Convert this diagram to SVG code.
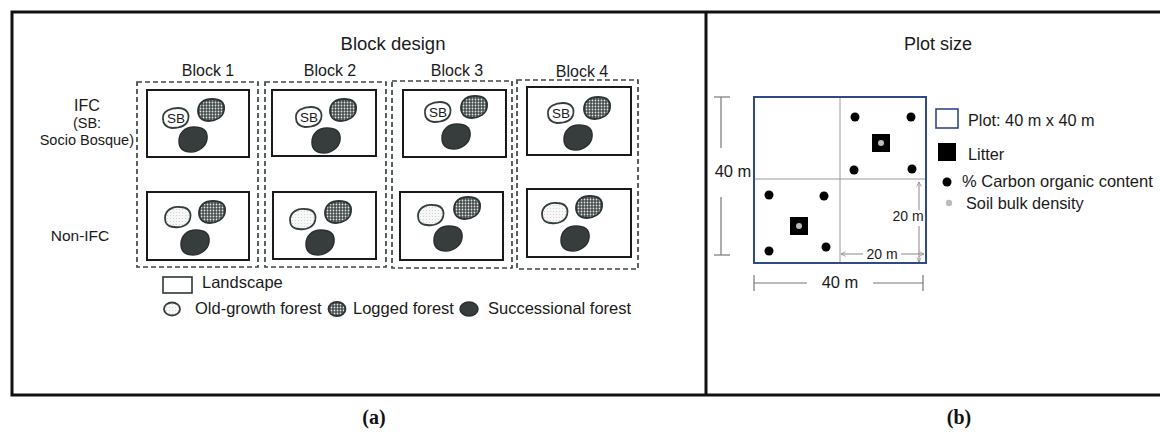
<svg xmlns="http://www.w3.org/2000/svg" width="1160" height="432" viewBox="0 0 1160 432">
<style>
text{font-family:"Liberation Sans",Arial,sans-serif;fill:#1a1a1a}
.frame{fill:none;stroke:#111;stroke-width:3}
.dash{fill:none;stroke:#3d4545;stroke-width:1.7;stroke-dasharray:5 3}
.land{fill:#fff;stroke:#1a1a1a;stroke-width:2}
.old{fill:url(#dots);stroke:#333d3d;stroke-width:1.8}
.sb{fill:#fff;stroke:#333d3d;stroke-width:1.8}
.log{fill:url(#check);stroke:#2c3535;stroke-width:1.8}
.suc{fill:#373d3d;stroke:#2a3030;stroke-width:1.5}
.grid{stroke:#9a9a9a;stroke-width:1;fill:none}
.dim{stroke:#777;stroke-width:1.2;fill:none}
.arr{stroke:#888;stroke-width:1;fill:none}
.plot{fill:none;stroke:#2f4a88;stroke-width:2}
.t16{font-size:16px}
.t14{font-size:14.5px}
.lab{font-family:"Liberation Serif","Times New Roman",serif;font-weight:bold;font-size:20px;fill:#111}
</style>
<defs>
<pattern id="dots" width="3" height="3" patternUnits="userSpaceOnUse">
<rect width="3" height="3" fill="#f7f7f7"/><circle cx="1.5" cy="1.5" r="0.6" fill="#cfcfcf"/>
</pattern>
<pattern id="check" width="3" height="3" patternUnits="userSpaceOnUse">
<rect width="3" height="3" fill="#454d4d"/><circle cx="1.5" cy="1.5" r="0.9" fill="#e4e4e4"/>
</pattern>
<path id="bSB" d="M-13,1 C-14,-7 -5,-10 2,-10 C10,-10 14,-5 12,2 C10,9 2,10 -4,10 C-11,9 -13,5 -13,1Z"/>
<path id="bOld" d="M-13,1 C-13,-7 -5,-11 2,-10 C10,-10 14,-5 12,2 C10,9 2,11 -4,10 C-11,10 -13,5 -13,1Z"/>
<path id="bLog" d="M-13,1 C-13,-7 -7,-11 1,-11 C9,-11 14,-8 13,0 C12,7 5,11 -2,11 C-9,11 -13,7 -13,1Z"/>
<path id="bSuc" d="M-14,2 C-14,-6 -8,-12 1,-12 C9,-12 15,-9 14,0 C13,8 5,13 -2,13 C-10,13 -14,9 -14,2Z"/>
<marker id="ah" viewBox="0 0 8 8" refX="7" refY="4" markerWidth="6" markerHeight="6" orient="auto-start-reverse">
<path d="M1,1 L7,4 L1,7" fill="none" stroke="#888" stroke-width="1"/>
</marker>
</defs>

<g id="frame">
<rect class="frame" x="12" y="12" width="1160" height="383"/>
<line class="frame" x1="706" y1="12" x2="706" y2="395"/>
</g>

<g id="panel-a">
<text x="393" y="50" text-anchor="middle" style="font-size:18.5px">Block design</text>
<g id="row-labels">
<text x="87" y="111" text-anchor="middle" class="t16">IFC</text>
<text x="87" y="128" text-anchor="middle" class="t14">(SB:</text>
<text x="134" y="145" text-anchor="end" class="t14">Socio Bosque)</text>
<text x="80" y="241" text-anchor="middle" style="font-size:15.5px">Non-IFC</text>
</g>

<g id="block1">
<text x="208" y="76" text-anchor="middle" class="t16">Block 1</text>
<rect class="dash" x="137" y="82" width="121" height="185"/>
<rect class="land" x="147" y="90" width="102" height="67"/>
<use href="#bSB" class="sb" x="176" y="118"/>
<text x="176" y="123" text-anchor="middle" style="font-size:13.5px">SB</text>
<use href="#bLog" class="log" x="211" y="110"/>
<use href="#bSuc" class="suc" x="193" y="139"/>
<rect class="land" x="147" y="192" width="102" height="68"/>
<use href="#bOld" class="old" x="178" y="217"/>
<use href="#bLog" class="log" x="212" y="212"/>
<use href="#bSuc" class="suc" x="195" y="242"/>
</g>

<g id="block2">
<text x="330" y="76" text-anchor="middle" class="t16">Block 2</text>
<rect class="dash" x="265" y="82" width="121" height="185"/>
<rect class="land" x="272" y="90" width="104" height="66"/>
<use href="#bSB" class="sb" x="309" y="117"/>
<text x="309" y="122" text-anchor="middle" style="font-size:13.5px">SB</text>
<use href="#bLog" class="log" x="343" y="110"/>
<use href="#bSuc" class="suc" x="326" y="140"/>
<rect class="land" x="273" y="192" width="103" height="67"/>
<use href="#bOld" class="old" x="303" y="219"/>
<use href="#bLog" class="log" x="338" y="212"/>
<use href="#bSuc" class="suc" x="320" y="242"/>
</g>

<g id="block3">
<text x="457" y="76" text-anchor="middle" class="t16">Block 3</text>
<rect class="dash" x="392" y="81" width="120" height="187"/>
<rect class="land" x="403" y="90" width="103" height="67"/>
<use href="#bSB" class="sb" x="438" y="112"/>
<text x="438" y="117" text-anchor="middle" style="font-size:13.5px">SB</text>
<use href="#bLog" class="log" x="474" y="107"/>
<use href="#bSuc" class="suc" x="456" y="136"/>
<rect class="land" x="400" y="192" width="103" height="68"/>
<use href="#bOld" class="old" x="431" y="215"/>
<use href="#bLog" class="log" x="467" y="208"/>
<use href="#bSuc" class="suc" x="448" y="238"/>
</g>

<g id="block4">
<text x="582" y="77" text-anchor="middle" class="t16">Block 4</text>
<rect class="dash" x="517" y="80" width="121" height="189"/>
<rect class="land" x="527" y="87" width="104" height="68"/>
<use href="#bSB" class="sb" x="561" y="113"/>
<text x="561" y="118" text-anchor="middle" style="font-size:13.5px">SB</text>
<use href="#bLog" class="log" x="597" y="108"/>
<use href="#bSuc" class="suc" x="578" y="137"/>
<rect class="land" x="527" y="189" width="104" height="68"/>
<use href="#bOld" class="old" x="555" y="213"/>
<use href="#bLog" class="log" x="589" y="207"/>
<use href="#bSuc" class="suc" x="575" y="238"/>
</g>

<g id="legend-a">
<rect x="163" y="277" width="29" height="16" fill="#fff" stroke="#2e3636" stroke-width="1.6"/>
<text x="202" y="288" style="font-size:16.5px">Landscape</text>
<ellipse cx="172" cy="309" rx="8" ry="6.5" class="old"/>
<text x="195" y="314" style="font-size:16.5px">Old-growth forest</text>
<ellipse cx="337" cy="309" rx="8.5" ry="7" class="log"/>
<text x="353" y="314" style="font-size:16.5px">Logged forest</text>
<ellipse cx="469" cy="309" rx="9" ry="7" class="suc"/>
<text x="488" y="314" style="font-size:16.5px">Successional forest</text>
</g>
<text class="lab" x="374" y="424" text-anchor="middle">(a)</text>
</g>

<g id="panel-b">
<text x="938" y="50" text-anchor="middle" style="font-size:18px">Plot size</text>
<g id="plot">
<line class="grid" x1="840" y1="97" x2="840" y2="263"/>
<line class="grid" x1="754" y1="179" x2="926" y2="179"/>
<rect class="plot" x="754" y="97" width="172" height="166"/>
<g fill="#000">
<circle cx="855" cy="117" r="4.5"/><circle cx="911" cy="117" r="4.5"/>
<circle cx="854" cy="170" r="4.5"/><circle cx="912" cy="169" r="4.5"/>
<rect x="872" y="134" width="18" height="18"/>
<circle cx="769" cy="195" r="4.5"/><circle cx="824" cy="196" r="4.5"/>
<circle cx="769" cy="251" r="4.5"/><circle cx="826" cy="247" r="4.5"/>
<rect x="790" y="217" width="18" height="18"/>
</g>
<circle cx="881" cy="143" r="3" fill="#bbb"/>
<circle cx="799" cy="226" r="3" fill="#bbb"/>
</g>
<g id="dimensions">
<line class="dim" x1="714" y1="97" x2="730" y2="97"/>
<line class="dim" x1="721" y1="97" x2="721" y2="148"/>
<line class="dim" x1="721" y1="197" x2="721" y2="255"/>
<line class="dim" x1="714" y1="255" x2="730" y2="255"/>
<text x="733" y="177" text-anchor="middle" style="font-size:16.5px">40 m</text>
<line class="dim" x1="754" y1="275" x2="754" y2="291"/>
<line class="dim" x1="923" y1="275" x2="923" y2="291"/>
<line class="dim" x1="754" y1="283" x2="807" y2="283"/>
<line class="dim" x1="873" y1="283" x2="923" y2="283"/>
<text x="840" y="288" text-anchor="middle" style="font-size:16.5px">40 m</text>
<line class="arr" x1="919" y1="210" x2="919" y2="182" marker-end="url(#ah)"/>
<line class="arr" x1="919" y1="226" x2="919" y2="262" marker-end="url(#ah)"/>
<text x="908" y="221" text-anchor="middle" style="font-size:14px">20 m</text>
<line class="arr" x1="863" y1="254" x2="841" y2="254" marker-end="url(#ah)"/>
<line class="arr" x1="901" y1="254" x2="924" y2="254" marker-end="url(#ah)"/>
<text x="882" y="259" text-anchor="middle" style="font-size:14px">20 m</text>
</g>
<g id="legend-b">
<rect x="936" y="109" width="22" height="19" fill="#fff" stroke="#2f4a88" stroke-width="1.6"/>
<text x="968" y="126" style="font-size:16.3px">Plot: 40 m x 40 m</text>
<rect x="938" y="143" width="18" height="18" fill="#000"/>
<text x="968" y="160" style="font-size:16.3px">Litter</text>
<circle cx="947" cy="182" r="4.5" fill="#000"/>
<text x="962" y="187" style="font-size:16.5px">% Carbon organic content</text>
<circle cx="949" cy="203" r="3.2" fill="#bbb"/>
<text x="966" y="209" style="font-size:16.3px">Soil bulk density</text>
</g>
<text class="lab" x="959" y="424" text-anchor="middle">(b)</text>
</g>
</svg>
